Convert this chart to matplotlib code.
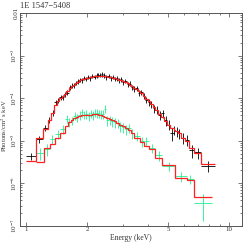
import numpy as np
import matplotlib
matplotlib.use("Agg")
from matplotlib import pyplot as plt
from matplotlib import ticker

# black spectrum: bin edges (keV), data, model and errors (units of 1e-4)
black_edges = [1.00, 1.12, 1.21, 1.28, 1.33, 1.38, 1.42, 1.46, 1.50, 1.54, 1.58,
               1.62, 1.66, 1.70, 1.74, 1.78, 1.82, 1.86, 1.90, 1.95, 2.00, 2.05,
               2.10, 2.15, 2.20, 2.25, 2.30, 2.35, 2.40, 2.46, 2.52, 2.58, 2.64,
               2.70, 2.77, 2.84, 2.91, 2.98, 3.05, 3.13, 3.21, 3.29, 3.37, 3.46,
               3.55, 3.65, 3.75, 3.86, 3.97, 4.09, 4.21, 4.34, 4.48, 4.63, 4.79,
               4.96, 5.14, 5.33, 5.45, 5.60, 5.80, 6.05, 6.35, 6.75, 7.30, 8.50]
black_model = [0.034, 0.113, 0.19, 0.30, 0.46, 0.68, 0.86, 0.99, 1.10, 1.26, 1.44,
               1.70, 1.90, 2.06, 2.23, 2.42, 2.63, 2.77, 2.88, 2.96, 3.04, 3.10,
               3.18, 3.27, 3.30, 3.36, 3.40, 3.40, 3.36, 3.27, 3.18, 3.10, 3.03,
               2.96, 2.82, 2.73, 2.63, 2.50, 2.42, 2.23, 2.06, 1.90, 1.75, 1.61,
               1.44, 1.30, 1.10, 0.96, 0.84, 0.71, 0.61, 0.515, 0.425, 0.352, 0.284,
               0.228, 0.194, 0.174, 0.165, 0.148, 0.119, 0.101, 0.069, 0.0527, 0.028]
black_data = [0.043, 0.107, 0.20, 0.31, 0.45, 0.81, 0.88, 1.06, 1.05, 1.23, 1.35,
              1.82, 1.98, 2.00, 2.30, 2.50, 2.70, 2.60, 3.00, 2.85, 3.20, 2.95,
              3.30, 3.15, 3.45, 3.50, 3.55, 3.60, 3.45, 3.10, 3.35, 2.90, 3.15,
              2.85, 2.95, 2.60, 2.75, 2.40, 2.55, 2.10, 2.20, 1.80, 1.65, 1.70,
              1.35, 1.38, 1.15, 0.92, 0.80, 0.74, 0.58, 0.54, 0.41, 0.44, 0.30,
              0.24, 0.15, 0.18, 0.17, 0.15, 0.115, 0.105, 0.059, 0.053, 0.026]
black_err = [0.008, 0.02, 0.035, 0.05, 0.07, 0.11, 0.13, 0.15, 0.15, 0.17, 0.19,
             0.23, 0.25, 0.26, 0.29, 0.31, 0.34, 0.33, 0.36, 0.35, 0.38, 0.36,
             0.39, 0.38, 0.41, 0.42, 0.43, 0.44, 0.42, 0.39, 0.41, 0.37, 0.39,
             0.36, 0.37, 0.34, 0.35, 0.32, 0.33, 0.29, 0.30, 0.26, 0.24, 0.25,
             0.21, 0.21, 0.19, 0.16, 0.15, 0.14, 0.12, 0.11, 0.095, 0.09, 0.075,
             0.065, 0.05, 0.045, 0.045, 0.04, 0.033, 0.03, 0.02, 0.016, 0.008]

# green spectrum
green_edges = [1.12, 1.22, 1.31, 1.39, 1.47, 1.56, 1.61, 1.66, 1.71, 1.76, 1.81,
               1.86, 1.91, 1.96, 2.01, 2.06, 2.11, 2.16, 2.21, 2.26, 2.31, 2.36,
               2.42, 2.48, 2.55, 2.62, 2.70, 2.78, 2.87, 2.96, 3.06, 3.17, 3.28,
               3.39, 3.64, 3.80, 4.02, 4.34, 4.67, 5.43, 6.20, 6.72, 8.24]
green_model = [0.032, 0.069, 0.086, 0.119, 0.156, 0.222, 0.27, 0.31, 0.343, 0.366,
               0.383, 0.393, 0.393, 0.393, 0.40, 0.41, 0.42, 0.42, 0.42, 0.41, 0.40,
               0.386, 0.366, 0.343, 0.329, 0.31, 0.284, 0.255, 0.231, 0.216, 0.20,
               0.179, 0.156, 0.119, 0.091, 0.076, 0.063, 0.040, 0.0264, 0.0136,
               0.012, 0.00483]
green_data = [0.051, 0.063, 0.108, 0.146, 0.19, 0.33, 0.28, 0.30, 0.39, 0.35,
              0.40, 0.47, 0.41, 0.43, 0.38, 0.44, 0.40, 0.46, 0.45, 0.44, 0.43,
              0.42, 0.565, 0.30, 0.31, 0.29, 0.27, 0.26, 0.22, 0.21, 0.188,
              0.20, 0.15, 0.13, 0.098, 0.10, 0.068, 0.046, 0.025, 0.0145,
              0.0125, 0.00348]
green_err = [0.015, 0.02, 0.025, 0.035, 0.045, 0.07, 0.07, 0.07, 0.09, 0.08,
             0.09, 0.10, 0.09, 0.10, 0.09, 0.10, 0.09, 0.10, 0.10, 0.10, 0.10,
             0.10, 0.12, 0.08, 0.08, 0.075, 0.07, 0.065, 0.06, 0.055, 0.05,
             0.05, 0.04, 0.03, 0.025, 0.025, 0.017, 0.012, 0.006, 0.0035,
             0.003, 0.0022]

title = "1E 1547\u22125408"
y_ticks = [1e-7, 1e-6, 1e-5, 1e-4, 1e-3, 1e-2]
y_labels = ["10$^{-7}$", "10$^{-6}$", "10$^{-5}$", "10$^{-4}$", "10$^{-3}$", "0.01"]
x_ticks = [1, 2, 5, 10]
x_labels = ["1", "2", "5", "10"]


def draw_spectrum(ax, edges, data, model, err, color, ecolor):
    edges = np.array(edges)
    scale = 1e-4
    centers = np.sqrt(edges[:-1] * edges[1:])
    xerr = [centers - edges[:-1], edges[1:] - centers]
    ax.errorbar(centers, np.array(data) * scale, xerr=xerr,
                yerr=np.array(err) * scale, fmt='none', ecolor=ecolor,
                elinewidth=0.6, capsize=0, zorder=2)
    ax.stairs(np.array(model) * scale, edges, baseline=None, color=color,
              lw=0.9, zorder=3)


def main():
    plt.rcParams['font.family'] = ['Liberation Serif', 'DejaVu Serif']
    plt.rcParams['mathtext.fontset'] = 'stix'

    fig = plt.figure(figsize=(2.45, 2.45), dpi=100)
    ax = fig.add_axes([0.082, 0.078, 0.906, 0.869])

    draw_spectrum(ax, black_edges, black_data, black_model, black_err,
                  '#ff2020', 'black')
    draw_spectrum(ax, green_edges, green_data, green_model, green_err,
                  '#ff2020', '#20f090')

    ax.set_xscale('log')
    ax.set_yscale('log')
    ax.set_xlim(0.935, 11.6)
    ax.set_ylim(1e-7, 1e-2)

    ax.xaxis.set_major_locator(ticker.FixedLocator(x_ticks))
    ax.xaxis.set_major_formatter(ticker.FixedFormatter(x_labels))
    ax.xaxis.set_minor_locator(ticker.LogLocator(base=10, subs=np.arange(2, 10)))
    ax.xaxis.set_minor_formatter(ticker.NullFormatter())
    ax.yaxis.set_major_locator(ticker.FixedLocator(y_ticks))
    ax.yaxis.set_major_formatter(ticker.FixedFormatter(y_labels))
    ax.yaxis.set_minor_locator(ticker.LogLocator(base=10, subs=np.arange(2, 10)))
    ax.yaxis.set_minor_formatter(ticker.NullFormatter())

    ax.tick_params(which='both', direction='in', top=True, right=True,
                   labelsize=5, width=0.5, colors='#444444', labelcolor='#333333',
                   pad=1)
    ax.tick_params(which='major', length=3)
    ax.tick_params(which='minor', length=1.5)
    for lab in ax.get_yticklabels():
        lab.set_rotation(90)
        lab.set_va('center')
    for sp in ax.spines.values():
        sp.set_linewidth(0.7)
        sp.set_color('#555555')

    ax.set_xlabel('Energy (keV)', fontsize=5.5, labelpad=1, color='#333333')
    ax.set_ylabel('Photons/cm$^2$ s keV', fontsize=4.8, color='#333333')
    ax.yaxis.set_label_coords(-0.052, 0.47)
    fig.text(0.082, 0.99, title, fontsize=6, va='top', ha='left', color='#333333')

    fig.savefig('out.png', dpi=100)


if "__main__" == __name__:
    main()
